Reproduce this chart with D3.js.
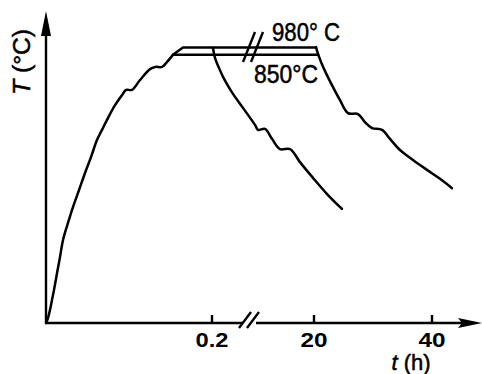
<!DOCTYPE html>
<html lang="en">
<head>
<meta charset="UTF-8">
<title>Heat treatment schedule</title>
<script src="https://d3js.org/d3.v7.min.js"></script>
<style>
    body { margin: 0; background: #fff; }
    svg { display: block; }
    text { font-family: "Liberation Sans", Arial, sans-serif; fill: #000; }
    .tick-label { font-size: 20px; font-weight: bold; }
    .label { stroke: #000; stroke-width: 0.5; }
    .curve { fill: none; stroke: #000; stroke-width: 2.5; stroke-linejoin: round; stroke-linecap: round; }
    .axis-line { stroke: #000; stroke-width: 2.4; fill: none; }
</style>
</head>
<body>
<div id="chart"></div>
<script>
// times in h, temperatures on a relative 0-100 schematic scale (axis has no values)
const heatTimes = [0, 0.0024, 0.0048, 0.0072, 0.0096, 0.0133, 0.0169, 0.0205, 0.0265, 0.0325, 0.0398, 0.047, 0.0542, 0.0614,
    0.0675, 0.0735, 0.0819, 0.0916, 0.0964, 0.1036, 0.1133, 0.1253, 0.1313, 0.1398, 0.1458, 0.153];
const heatTemps = [0, 1.6, 4.2, 7.4, 10.6, 16.1, 21.3, 26.8, 32.3, 37.4, 42.9, 48.4, 53.5, 59.0,
    62.3, 65.5, 69.7, 73.5, 75.2, 75.2, 78.4, 81.9, 82.6, 82.6, 84.2, 86.5];

const upperLevel = 88.9;   // 980 °C hold
const lowerLevel = 86.5;   // 850 °C hold
const upperStart = 0.165, lowerStart = 0.153;
const upperEnd = 20.34, lowerEnd = 20.7;

const shortCoolTimes = [0.2012, 0.2036, 0.2084, 0.2133, 0.2193, 0.2253, 0.2373, 0.2518, 0.2554, 0.2639, 0.2723,
    0.2819, 0.294, 0.306, 0.3217, 0.3386, 0.3566];
const shortCoolTemps = [88.7, 85.5, 82.3, 79.4, 76.5, 73.9, 69.4, 63.9, 62.3, 62.6, 59.4,
    56.1, 56.1, 51.9, 46.8, 41.6, 36.8];

const longCoolTimes = [20.34, 20.68, 21.19, 22.03, 23.22, 24.41, 25.76, 27.46, 28.64, 29.83, 31.53,
    32.88, 34.58, 36.78, 39.15, 41.36, 43.39];
const longCoolTemps = [89.0, 86.8, 84.2, 80.6, 76.1, 71.9, 67.7, 67.4, 64.8, 62.9, 62.3,
    59.4, 55.8, 52.6, 49.4, 46.5, 43.5];

const shortTicks = [0.2];
const longTicks = [20, 40];

const width = 482, height = 374;
const svg = d3.select("#chart").append("svg")
    .attr("width", width)
    .attr("height", height);

// broken time axis: two linear pieces
const xShort = d3.scaleLinear().domain([0, 0.2]).range([46, 212]);
const xLong = d3.scaleLinear().domain([20, 40]).range([314, 432]);
const y = d3.scaleLinear().domain([0, 100]).range([323, 13]);

const x0 = xShort(0), y0 = y(0);
const breakX = 250;

// axes
svg.append("line").attr("class", "axis-line")
    .attr("x1", x0).attr("y1", y0).attr("x2", x0).attr("y2", 30);
svg.append("path")
    .attr("d", `M${x0},11 L${x0 - 5},36 L${x0 + 5},36 Z`)
    .attr("fill", "#000");

svg.append("line").attr("class", "axis-line")
    .attr("x1", x0 - 1).attr("y1", y0).attr("x2", breakX - 7).attr("y2", y0);
svg.append("line").attr("class", "axis-line")
    .attr("x1", breakX + 6).attr("y1", y0).attr("x2", 465).attr("y2", y0);
svg.append("path")
    .attr("d", `M482,${y0} L458,${y0 - 5} L462,${y0} L458,${y0 + 5} Z`)
    .attr("fill", "#000");

// break marks on the axis
[0, 8].forEach(dx => {
    svg.append("line").attr("class", "axis-line").attr("stroke-width", 2)
        .attr("x1", breakX - 11 + dx).attr("y1", y0 + 5)
        .attr("x2", breakX + 1 + dx).attr("y2", y0 - 11);
});

// ticks and labels
const tickData = shortTicks.map(t => ({x: xShort(t), label: String(t)}))
    .concat(longTicks.map(t => ({x: xLong(t), label: String(t)})));

svg.selectAll(".tick").data(tickData).enter().append("line")
    .attr("class", "axis-line")
    .attr("x1", d => d.x).attr("x2", d => d.x)
    .attr("y1", y0).attr("y2", y0 - 8);

svg.selectAll(".tick-label").data(tickData).enter().append("text")
    .attr("class", "tick-label")
    .attr("x", d => d.x)
    .attr("y", 347)
    .attr("text-anchor", "middle")
    .attr("textLength", d => d.label.length === 3 ? 33 : 27)
    .attr("lengthAdjust", "spacingAndGlyphs")
    .text(d => d.label);

// axis titles
const xt = svg.append("text")
    .attr("class", "label")
    .attr("x", 411).attr("y", 370)
    .attr("text-anchor", "middle")
    .attr("font-size", 22);
xt.append("tspan").attr("font-style", "italic").text("t");
xt.append("tspan").text(" (h)");

const yt = svg.append("text")
    .attr("class", "label")
    .attr("transform", "translate(30,62) rotate(-90)")
    .attr("text-anchor", "middle")
    .attr("font-size", 23)
    .attr("textLength", 66)
    .attr("lengthAdjust", "spacingAndGlyphs");
yt.append("tspan").attr("font-style", "italic").text("T");
yt.append("tspan").text(" (°C)");

// curves
const lineShort = d3.line()
    .x(d => xShort(d[0])).y(d => y(d[1]))
    .curve(d3.curveCatmullRom.alpha(0.5));
const lineLong = d3.line()
    .x(d => xLong(d[0])).y(d => y(d[1]))
    .curve(d3.curveCatmullRom.alpha(0.5));

svg.append("path").attr("class", "curve")
    .attr("d", lineShort(d3.zip(heatTimes, heatTemps)));

// hold lines (cross the break)
svg.append("path").attr("class", "curve")
    .attr("d", `M${xShort(lowerStart)},${y(lowerLevel)} L${xLong(lowerEnd)},${y(lowerLevel)}`);
svg.append("path").attr("class", "curve")
    .attr("d", `M${xShort(lowerStart)},${y(lowerLevel)} L${xShort(upperStart)},${y(upperLevel)} L${xLong(upperEnd)},${y(upperLevel)}`);

// break marks on the holds
[0, 8].forEach(dx => {
    svg.append("line").attr("class", "axis-line").attr("stroke-width", 2)
        .attr("x1", breakX - 7 + dx).attr("y1", 62)
        .attr("x2", breakX + 5 + dx).attr("y2", 32);
});

svg.append("path").attr("class", "curve")
    .attr("d", lineShort(d3.zip(shortCoolTimes, shortCoolTemps)));
svg.append("path").attr("class", "curve")
    .attr("d", lineLong(d3.zip(longCoolTimes, longCoolTemps)));

// hold temperature labels
svg.append("text")
    .attr("class", "label")
    .attr("x", 272).attr("y", 41)
    .attr("font-size", 25)
    .attr("textLength", 68)
    .attr("lengthAdjust", "spacingAndGlyphs")
    .text("980° C");
svg.append("text")
    .attr("class", "label")
    .attr("x", 254).attr("y", 83)
    .attr("font-size", 25)
    .attr("textLength", 64)
    .attr("lengthAdjust", "spacingAndGlyphs")
    .text("850°C");
</script>
</body>
</html>
